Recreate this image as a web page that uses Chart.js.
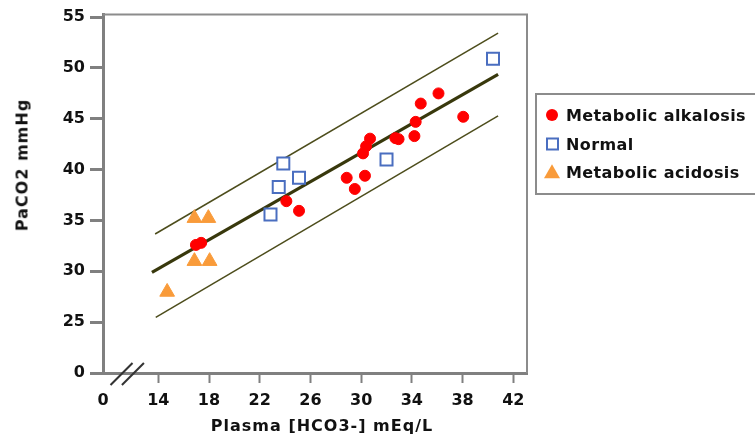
<!DOCTYPE html>
<html>
<head>
<meta charset="utf-8">
<script src="https://cdn.jsdelivr.net/npm/chart.js@4/dist/chart.umd.min.js"></script>
<style>
  html, body { margin: 0; padding: 0; background: #fff; }
  #wrap { position: relative; width: 755px; height: 443px; overflow: hidden;
          font-family: "DejaVu Sans", Verdana, sans-serif; font-weight: bold; color: #111; }
  #chart { position: absolute; left: 0; top: 0; }
  .ytitle { position: absolute; left: 22px; top: 165px; white-space: nowrap; font-size: 16px;
            letter-spacing: 1px; transform: translate(-50%, -50%) rotate(-90deg); }
  .xtitle { position: absolute; left: 322px; top: 425px; white-space: nowrap; font-size: 16px;
            letter-spacing: 1px; transform: translate(-50%, -50%); }
  .legend { position: absolute; left: 535px; top: 93px; width: 240px; height: 102px;
            border: 2px solid #8c8c8c; box-sizing: border-box; }
  .item { position: absolute; left: 29px; font-size: 16px; letter-spacing: 0.4px;
          white-space: nowrap; transform: translateY(-50%); }
  .mk { position: absolute; }
  .dot { left: 9px; width: 12px; height: 12px; border-radius: 50%; background: #ff0000; transform: translateY(-50%); }
  .sq { left: 9px; width: 9px; height: 9px; border: 2px solid #4a6ec0; background: #fff; transform: translateY(-50%); }
  .tri { left: 7px; width: 0; height: 0; border-left: 8px solid transparent; border-right: 8px solid transparent;
         border-bottom: 14px solid #f99b3a; transform: translateY(-55%); }
</style>
</head>
<body>
<div id="wrap">
  <canvas id="chart" width="755" height="443"></canvas>
  <div class="ytitle">PaCO2 mmHg</div>
  <div class="xtitle">Plasma [HCO3-] mEq/L</div>
  <div class="legend">
    <div class="mk dot" style="top:20px"></div><div class="item" style="top:20px">Metabolic alkalosis</div>
    <div class="mk sq" style="top:49px"></div><div class="item" style="top:49px">Normal</div>
    <div class="mk tri" style="top:77px"></div><div class="item" style="top:77px">Metabolic acidosis</div>
  </div>
</div>
<script>
'use strict';

// ── Data ────────────────────────────────────────────────────
const alkalosisX = [16.97, 17.38, 24.1, 25.1, 28.86, 29.5, 30.3, 30.15, 30.39, 30.7, 32.7, 32.95, 34.2, 34.3, 34.7, 36.1, 38.05];
const alkalosisY = [32.6, 32.8, 36.9, 35.95, 39.2, 38.1, 39.4, 41.6, 42.3, 43.05, 43.1, 43.0, 43.3, 44.7, 46.5, 47.5, 45.2];

const normalX = [22.85, 23.5, 23.86, 25.1, 32.0, 40.4];
const normalY = [35.6, 38.3, 40.6, 39.2, 41.0, 50.9];

const acidosisX = [14.7, 16.85, 17.95, 16.85, 18.05];
const acidosisY = [27.97, 35.23, 35.23, 31.0, 31.0];

// regression line and the band either side of it
const bandX      = [13.5, 40.8];
const centerY    = [29.9, 49.36];
const upperX     = [13.75, 40.8];
const upperY     = [33.67, 53.43];
const lowerX     = [13.8, 40.8];
const lowerY     = [25.47, 45.29];

// axes: the visible "0" sits at the start of each broken axis
const xTicks = [9.64, 14, 18, 22, 26, 30, 34, 38, 42];
const yTicks = [20, 25, 30, 35, 40, 45, 50, 55];
const X_MIN = 9.64, X_MAX = 43.08;
const Y_MIN = 20,   Y_MAX = 55.25;

const AXIS_GREY = '#808080';
const FONT = { family: '"DejaVu Sans", Verdana, sans-serif', size: 16, weight: 'bold' };

const pts = (xs, ys) => xs.map((x, i) => ({ x, y: ys[i] }));

// ── Plot frame + axis break ─────────────────────────────────
const framePlugin = {
  id: 'frame',
  afterDatasetsDraw(chart) {
    const { ctx, chartArea: a, scales } = chart;
    ctx.save();
    ctx.strokeStyle = '#8c8c8c';
    ctx.lineWidth = 2;
    ctx.beginPath();
    ctx.moveTo(a.left, a.top);
    ctx.lineTo(a.right, a.top);
    ctx.lineTo(a.right, a.bottom);
    ctx.stroke();

    // two slashes across the x axis
    ctx.strokeStyle = '#333';
    ctx.lineWidth = 2;
    [11.1, 12.0].forEach(v => {
      const cx = scales.x.getPixelForValue(v);
      ctx.beginPath();
      ctx.moveTo(cx - 11, a.bottom + 12);
      ctx.lineTo(cx + 11, a.bottom - 10);
      ctx.stroke();
    });
    ctx.restore();
  }
};

// ── Chart ───────────────────────────────────────────────────
const lineDs = (data, width, color) => ({
  type: 'line', data, borderColor: color, borderWidth: width,
  pointRadius: 0, fill: false, tension: 0, order: 10
});

new Chart(document.getElementById('chart').getContext('2d'), {
  type: 'scatter',
  data: {
    datasets: [
      lineDs(pts(bandX, centerY), 3.2, '#38380c'),
      lineDs(pts(upperX, upperY), 1.5, '#4d4d1c'),
      lineDs(pts(lowerX, lowerY), 1.5, '#4d4d1c'),
      {
        label: 'Metabolic alkalosis', data: pts(alkalosisX, alkalosisY),
        pointStyle: 'circle', pointRadius: 5.5, borderWidth: 1,
        backgroundColor: '#ff0000', borderColor: '#ff0000', order: 1
      },
      {
        label: 'Normal', data: pts(normalX, normalY),
        pointStyle: 'rect', pointRadius: 8.5, borderWidth: 2,
        backgroundColor: '#ffffff', borderColor: '#4a6ec0', order: 2
      },
      {
        label: 'Metabolic acidosis', data: pts(acidosisX, acidosisY),
        pointStyle: 'triangle', pointRadius: 8.5, borderWidth: 1,
        backgroundColor: '#f99b3a', borderColor: '#f99b3a', order: 3
      }
    ]
  },
  options: {
    responsive: false,
    animation: false,
    layout: { padding: { top: 12, right: 228, left: 0, bottom: 0 } },
    plugins: { legend: { display: false }, tooltip: { enabled: false } },
    scales: {
      x: {
        type: 'linear', min: X_MIN, max: X_MAX,
        afterBuildTicks: s => { s.ticks = xTicks.map(value => ({ value })); },
        afterFit: s => { s.height = 70; },
        border: { color: AXIS_GREY, width: 3 },
        grid: {
          drawOnChartArea: false, tickLength: 10, tickWidth: 2,
          tickColor: c => c.index === 0 ? 'rgba(0,0,0,0)' : AXIS_GREY
        },
        ticks: {
          autoSkip: false, maxRotation: 0, padding: 8, color: '#111', font: FONT,
          callback: v => v === xTicks[0] ? '0' : String(v)
        }
      },
      y: {
        type: 'linear', min: Y_MIN, max: Y_MAX,
        afterBuildTicks: s => { s.ticks = yTicks.map(value => ({ value })); },
        afterFit: s => { s.width = 103; },
        border: { color: AXIS_GREY, width: 3 },
        grid: { drawOnChartArea: false, tickLength: 13, tickWidth: 3, tickColor: AXIS_GREY },
        ticks: {
          autoSkip: false, padding: 5, color: '#111', font: FONT,
          callback: v => v === Y_MIN ? '0' : String(v)
        }
      }
    }
  },
  plugins: [framePlugin]
});
</script>
</body>
</html>
